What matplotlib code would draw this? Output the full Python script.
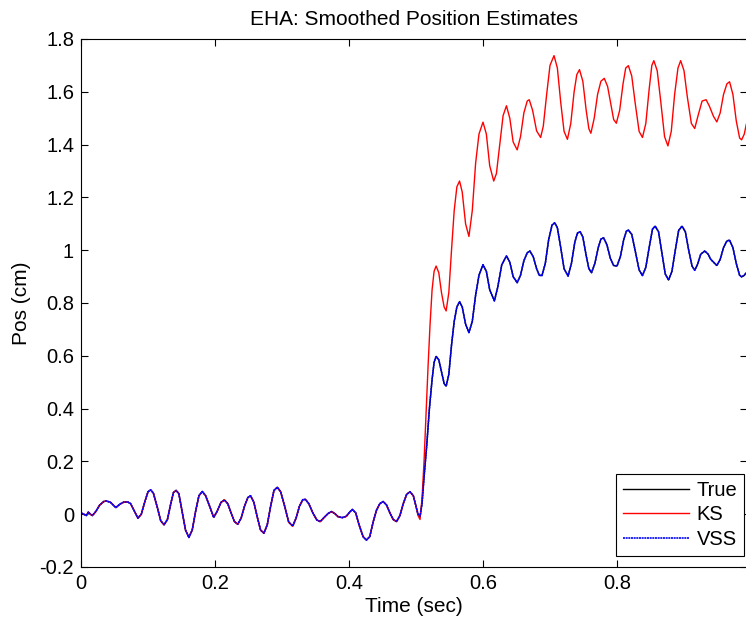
import matplotlib
matplotlib.use("Agg")
import matplotlib.pyplot as plt
import numpy as np

plt.rcParams["font.family"] = ["Liberation Sans", "DejaVu Sans"]
plt.rcParams["font.size"] = 14.5

# True position (VSS estimate lies on top of it)
true_t = [0.000, 0.004, 0.008, 0.011, 0.014, 0.017, 0.022, 0.028, 0.034, 0.038,
          0.044, 0.048, 0.052, 0.058, 0.064, 0.070, 0.074, 0.080, 0.085, 0.090,
          0.095, 0.100, 0.104, 0.108, 0.114, 0.119, 0.124, 0.129, 0.134, 0.138,
          0.142, 0.146, 0.151, 0.156, 0.161, 0.166, 0.171, 0.176, 0.181, 0.186,
          0.192, 0.198, 0.203, 0.209, 0.214, 0.219, 0.224, 0.229, 0.234, 0.239,
          0.244, 0.249, 0.253, 0.258, 0.263, 0.268, 0.273, 0.278, 0.283, 0.288,
          0.293, 0.298, 0.304, 0.310, 0.316, 0.321, 0.326, 0.331, 0.335, 0.340,
          0.346, 0.352, 0.357, 0.363, 0.369, 0.374, 0.379, 0.384, 0.390, 0.396,
          0.401, 0.405, 0.410, 0.415, 0.421, 0.426, 0.431, 0.436, 0.441, 0.446,
          0.451, 0.456, 0.461, 0.466, 0.471, 0.476, 0.481, 0.486, 0.491, 0.496,
          0.500, 0.503, 0.506, 0.509, 0.512, 0.516, 0.520, 0.524, 0.527, 0.530,
          0.534, 0.538, 0.542, 0.545, 0.549, 0.553, 0.557, 0.561, 0.565, 0.569,
          0.574, 0.579, 0.584, 0.589, 0.594, 0.600, 0.605, 0.610, 0.617, 0.622,
          0.628, 0.635, 0.640, 0.645, 0.651, 0.656, 0.661, 0.666, 0.670, 0.675,
          0.680, 0.684, 0.688, 0.693, 0.698, 0.703, 0.707, 0.711, 0.716, 0.721,
          0.727, 0.732, 0.737, 0.741, 0.745, 0.749, 0.754, 0.758, 0.762, 0.767,
          0.772, 0.776, 0.780, 0.785, 0.790, 0.795, 0.800, 0.805, 0.810, 0.814,
          0.817, 0.822, 0.827, 0.833, 0.838, 0.843, 0.848, 0.853, 0.857, 0.862,
          0.867, 0.872, 0.877, 0.882, 0.887, 0.892, 0.897, 0.902, 0.907, 0.912,
          0.916, 0.920, 0.925, 0.931, 0.936, 0.940, 0.944, 0.949, 0.954, 0.959,
          0.964, 0.968, 0.973, 0.978, 0.983, 0.986, 0.990, 0.993]
true_v = [0.005, 0.000, -0.005, 0.008, 0.000, -0.005, 0.010, 0.035, 0.048, 0.050,
          0.045, 0.035, 0.025, 0.038, 0.046, 0.046, 0.040, 0.010, -0.015, 0.000,
          0.045, 0.085, 0.092, 0.080, 0.025, -0.025, -0.040, -0.020, 0.040, 0.082,
          0.090, 0.078, 0.010, -0.060, -0.088, -0.060, 0.010, 0.070, 0.086, 0.070,
          0.030, -0.012, 0.010, 0.045, 0.054, 0.040, 0.005, -0.028, -0.038, -0.015,
          0.030, 0.063, 0.070, 0.045, -0.010, -0.060, -0.072, -0.040, 0.030, 0.090,
          0.102, 0.085, 0.030, -0.030, -0.045, -0.015, 0.030, 0.055, 0.056, 0.040,
          0.005, -0.022, -0.028, -0.012, 0.003, 0.010, 0.002, -0.010, -0.013, -0.008,
          0.008, 0.018, 0.005, -0.040, -0.085, -0.098, -0.085, -0.030, 0.015, 0.040,
          0.048, 0.035, 0.005, -0.020, -0.028, -0.005, 0.040, 0.075, 0.085, 0.070,
          0.030, 0.000, -0.008, 0.040, 0.140, 0.260, 0.400, 0.510, 0.575, 0.598,
          0.585, 0.540, 0.495, 0.485, 0.530, 0.640, 0.730, 0.785, 0.805, 0.785,
          0.720, 0.688, 0.730, 0.830, 0.905, 0.945, 0.920, 0.850, 0.808, 0.860,
          0.945, 0.978, 0.955, 0.900, 0.877, 0.905, 0.960, 0.990, 0.997, 0.975,
          0.930, 0.905, 0.904, 0.950, 1.040, 1.095, 1.104, 1.085, 1.010, 0.930,
          0.902, 0.950, 1.030, 1.065, 1.070, 1.050, 0.980, 0.930, 0.915, 0.950,
          1.010, 1.042, 1.047, 1.020, 0.970, 0.942, 0.940, 0.975, 1.040, 1.072,
          1.076, 1.060, 1.000, 0.925, 0.904, 0.935, 1.010, 1.080, 1.091, 1.070,
          0.990, 0.910, 0.887, 0.920, 1.000, 1.075, 1.091, 1.070, 1.000, 0.940,
          0.924, 0.945, 0.985, 0.997, 0.985, 0.965, 0.955, 0.942, 0.965, 1.010,
          1.035, 1.038, 1.010, 0.950, 0.905, 0.899, 0.905, 0.915]

# KS estimate after the step (before it, KS follows the true curve)
ks_late_t = [0.503, 0.506, 0.509, 0.512, 0.515, 0.518, 0.521, 0.524, 0.527, 0.530,
             0.534, 0.538, 0.542, 0.545, 0.549, 0.553, 0.557, 0.561, 0.565, 0.569,
             0.574, 0.579, 0.584, 0.589, 0.594, 0.600, 0.605, 0.610, 0.616, 0.620,
             0.625, 0.630, 0.635, 0.640, 0.645, 0.651, 0.656, 0.661, 0.666, 0.669,
             0.674, 0.680, 0.686, 0.690, 0.695, 0.700, 0.706, 0.711, 0.716, 0.721,
             0.726, 0.731, 0.736, 0.740, 0.744, 0.749, 0.754, 0.758, 0.761, 0.766,
             0.771, 0.776, 0.781, 0.786, 0.791, 0.795, 0.799, 0.804, 0.809, 0.813,
             0.817, 0.822, 0.827, 0.833, 0.838, 0.843, 0.848, 0.852, 0.855, 0.860,
             0.865, 0.871, 0.876, 0.881, 0.886, 0.891, 0.895, 0.900, 0.905, 0.911,
             0.916, 0.921, 0.927, 0.933, 0.938, 0.944, 0.949, 0.954, 0.959, 0.964,
             0.968, 0.973, 0.978, 0.983, 0.986, 0.990, 0.993]
ks_late_v = [-0.005, -0.020, 0.060, 0.200, 0.380, 0.560, 0.720, 0.850, 0.920, 0.940,
             0.915, 0.840, 0.785, 0.770, 0.840, 1.000, 1.150, 1.240, 1.262, 1.220,
             1.100, 1.052, 1.150, 1.330, 1.440, 1.485, 1.440, 1.320, 1.262, 1.290,
             1.400, 1.510, 1.547, 1.500, 1.410, 1.380, 1.430, 1.520, 1.565, 1.570,
             1.530, 1.452, 1.427, 1.470, 1.590, 1.700, 1.737, 1.690, 1.560, 1.450,
             1.420, 1.480, 1.600, 1.665, 1.684, 1.640, 1.530, 1.460, 1.443, 1.500,
             1.590, 1.640, 1.651, 1.620, 1.550, 1.495, 1.481, 1.530, 1.630, 1.690,
             1.699, 1.660, 1.560, 1.450, 1.427, 1.480, 1.610, 1.700, 1.718, 1.680,
             1.570, 1.430, 1.395, 1.450, 1.590, 1.690, 1.718, 1.680, 1.580, 1.480,
             1.461, 1.510, 1.565, 1.570, 1.545, 1.507, 1.486, 1.520, 1.590, 1.630,
             1.638, 1.590, 1.490, 1.425, 1.418, 1.440, 1.477]

true_t = np.array(true_t)
true_v = np.array(true_v)
early = true_t < 0.503
ks_t = np.concatenate([true_t[early], ks_late_t])
ks_v = np.concatenate([true_v[early], ks_late_v])
vss_t, vss_v = true_t, true_v

W, H = 746, 625
fig = plt.figure(figsize=(W / 100, H / 100), dpi=100)
ax = fig.add_axes([81 / W, 1 - 567 / H, 666 / W, 528 / H])

ax.plot(true_t, true_v, color="black", lw=1.0, label="True")
ax.plot(ks_t, ks_v, color="red", lw=1.0, label="KS")
ax.plot(vss_t, vss_v, color="blue", lw=1.2, ls=(0, (1.2, 0.4)), label="VSS")

ax.set_xlim(0, 666 / 670)
ax.set_ylim(-0.2, 1.8)
ax.set_xticks([0, 0.2, 0.4, 0.6, 0.8])
ax.set_xticklabels(["0", "0.2", "0.4", "0.6", "0.8"])
ax.set_yticks(np.arange(-0.2, 1.81, 0.2))
ax.set_yticklabels(["-0.2", "0", "0.2", "0.4", "0.6", "0.8", "1", "1.2", "1.4", "1.6", "1.8"])
ax.tick_params(direction="in", length=5, width=0.8, top=True, right=True, pad=5)
for s in ax.spines.values():
    s.set_linewidth(0.8)

ax.set_title("EHA: Smoothed Position Estimates", fontsize=15, pad=10)
ax.set_xlabel("Time (sec)", fontsize=15, labelpad=3)
ax.set_ylabel("Pos (cm)", fontsize=15, labelpad=6)

leg = ax.legend(loc="lower right", bbox_to_anchor=(744.3 / W, 1 - 556 / H),
                bbox_transform=fig.transFigure, borderaxespad=0, fancybox=False,
                edgecolor="black", framealpha=1, handlelength=3.3,
                handletextpad=0.35, labelspacing=0.28, borderpad=0.35, fontsize=14.5)
leg.get_frame().set_linewidth(0.8)

fig.savefig("out.png", dpi=100)
